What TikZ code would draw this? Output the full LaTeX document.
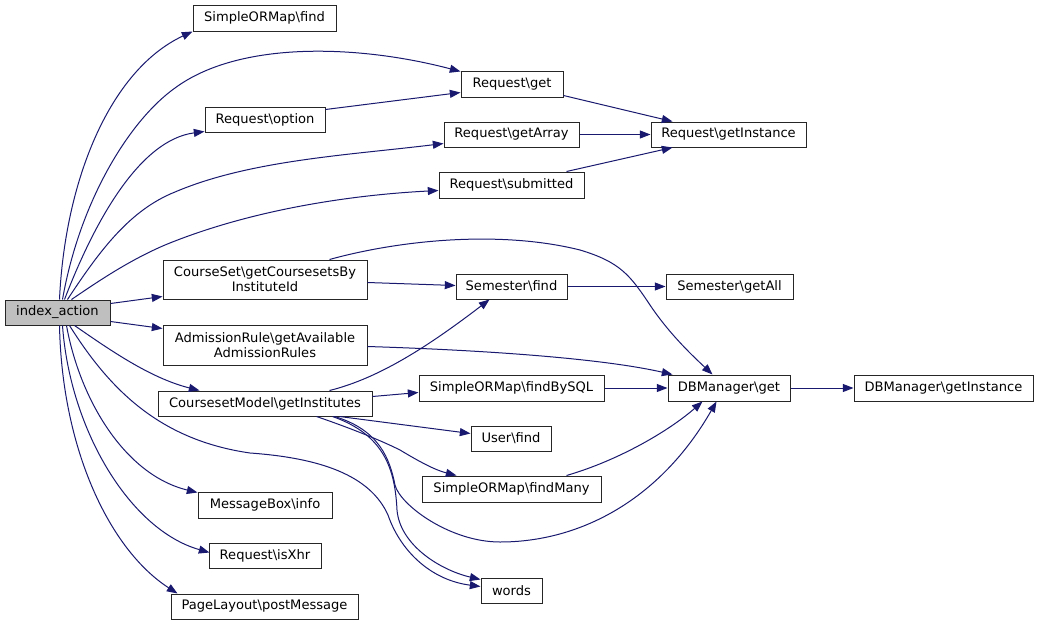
\documentclass[tikz,border=0pt]{standalone}
\usepackage{fontspec}
\setmainfont{DejaVu Sans}
\usetikzlibrary{arrows.meta,calc}
\definecolor{edgecol}{HTML}{191970}
\definecolor{rootfill}{HTML}{BFBFBF}
\tikzset{
  box/.style={draw=black!85,line width=0.75pt,fill=white,inner sep=0pt,align=center,
    font=\fontsize{9.8}{10.9}\selectfont},
  bw/.style={minimum width=#1*0.75pt},
  bh/.style={minimum height=#1*0.75pt},
  e/.style={draw=edgecol,line width=0.75pt,-{Triangle[length=8pt,width=6pt]}}
}
\begin{document}
\begin{tikzpicture}[x=0.75pt,y=-0.75pt]
\useasboundingbox[fill=white] (0,0) rectangle (1039,625);
% nodes
\node[box,bw=105,bh=25,fill=rootfill] (idx) at (57.5,312.5) {index\_action};
\node[box,bw=143,bh=26] (sof) at (264.5,18) {SimpleORMap\textbackslash find};
\node[box,bw=102,bh=26] (rget) at (512,84) {Request\textbackslash get};
\node[box,bw=120,bh=25] (ropt) at (265,119.5) {Request\textbackslash option};
\node[box,bw=135,bh=25] (rarr) at (511.5,134.5) {Request\textbackslash getArray};
\node[box,bw=155,bh=25] (rinst) at (728.5,134.5) {Request\textbackslash getInstance};
\node[box,bw=145,bh=26] (rsub) at (511.5,185) {Request\textbackslash submitted};
\node[box,bw=204,bh=39] (cs) at (265,279.5) {CourseSet\textbackslash getCoursesetsBy\\InstituteId};
\node[box,bw=111,bh=25] (semf) at (511.5,286.5) {Semester\textbackslash find};
\node[box,bw=127,bh=25] (sema) at (729.5,286.5) {Semester\textbackslash getAll};
\node[box,bw=204,bh=40] (adm) at (265,345) {AdmissionRule\textbackslash getAvailable\\AdmissionRules};
\node[box,bw=214,bh=25] (csm) at (265,403.5) {CoursesetModel\textbackslash getInstitutes};
\node[box,bw=185,bh=26] (fbs) at (511.5,388) {SimpleORMap\textbackslash findBySQL};
\node[box,bw=122,bh=26] (dbg) at (729,388) {DBManager\textbackslash get};
\node[box,bw=179,bh=26] (dbi) at (943.5,388) {DBManager\textbackslash getInstance};
\node[box,bw=80,bh=25] (uf) at (511,438.5) {User\textbackslash find};
\node[box,bw=179,bh=26] (fm) at (511.5,489) {SimpleORMap\textbackslash findMany};
\node[box,bw=134,bh=26] (mb) at (265,505) {MessageBox\textbackslash info};
\node[box,bw=112,bh=25] (isx) at (265,555.5) {Request\textbackslash isXhr};
\node[box,bw=61,bh=25] (words) at (511.5,590.5) {words};
\node[box,bw=187,bh=25] (pl) at (264.5,606.5) {PageLayout\textbackslash postMessage};
% edges from index_action
\draw[e] ($(idx.north west)+(55,0)$) .. controls (65,180) and (110,70) .. (sof.south west);
\draw[e] ($(idx.north west)+(58,0)$) .. controls (80,200) and (130,120) .. (175,88)
   .. controls (240,40) and (360,45) .. ($(rget.north west)+(0,1)$);
\draw[e] ($(idx.north west)+(60,0)$) .. controls (95,220) and (140,140) .. ($(ropt.south west)+(0,-1)$);
\draw[e] ($(idx.north west)+(63,0)$) .. controls (100,250) and (130,210) .. (175,192)
   .. controls (250,160) and (350,155) .. ($(rarr.south west)+(0,-4)$);
\draw[e] ($(idx.north west)+(67,0)$) .. controls (100,280) and (130,260) .. (165,245)
   .. controls (250,210) and (350,195) .. ($(rsub.south west)+(0,-8)$);
\draw[e] ($(idx.north east)+(0,4)$) -- ($(cs.south west)+(0,-3)$);
\draw[e] ($(idx.south east)+(0,-4)$) -- ($(adm.north west)+(0,4)$);
\draw[e] ($(idx.south west)+(70,0)$) .. controls (110,350) and (150,378) .. ($(csm.north west)+(42,0)$);
\draw[e] ($(idx.south west)+(62,0)$) .. controls (80,400) and (125,475) .. ($(mb.north west)+(0,1)$);
\draw[e] ($(idx.south west)+(58,0)$) .. controls (70,430) and (130,530) .. ($(isx.north west)+(1,10)$);
\draw[e] ($(idx.south west)+(55,0)$) .. controls (62,450) and (110,550) .. ($(pl.north west)+(7,0)$);
\draw[e] ($(idx.south west)+(65,0)$) .. controls (110,390) and (160,440) .. (250,453)
   .. controls (320,458) and (370,475) .. (388,515)
   .. controls (400,550) and (430,580) .. ($(words.north west)+(0,9)$);
% other edges
\draw[e] ($(ropt.north east)+(0,3)$) -- ($(rget.north west)+(0,22)$);
\draw[e] ($(rget.south east)+(0,-2)$) -- ($(rinst.north west)+(22,0)$);
\draw[e] (rarr.east) -- (rinst.west);
\draw[e] ($(rsub.north west)+(128,0)$) -- ($(rinst.south west)+(22,0)$);
\draw[e] ($(cs.north west)+(167,0)$) .. controls (400,240) and (500,230) .. (580,250)
   .. controls (620,262) and (630,275) .. (650,305)
   .. controls (670,335) and (695,358) .. ($(dbg.north west)+(45,0)$);
\draw[e] ($(cs.north east)+(0,23)$) -- ($(semf.north west)+(0,12)$);
\draw[e] (semf.east) -- (sema.west);
\draw[e] ($(adm.north east)+(0,22)$) .. controls (480,350) and (600,358) .. ($(dbg.north west)+(5,0)$);
\draw[e] ($(csm.north west)+(172,0)$) .. controls (380,378) and (430,345) .. ($(semf.south west)+(34,0)$);
\draw[e] ($(csm.north east)+(0,6)$) -- ($(fbs.north west)+(0,18)$);
\draw[e] ($(csm.south west)+(182,0)$) -- ($(uf.north west)+(0,8)$);
\draw[e] ($(csm.south west)+(159,0)$) .. controls (350,428) and (380,440) .. (400,450)
   .. controls (420,462) and (435,470) .. ($(fm.north west)+(35,0)$);
\draw[e] ($(csm.south west)+(177,0)$) .. controls (380,430) and (390,460) .. (395,485)
   .. controls (400,505) and (450,542) .. (500,542)
   .. controls (580,542) and (660,500) .. ($(dbg.south west)+(49,0)$);
\draw[e] ($(csm.south west)+(175,0)$) .. controls (385,435) and (395,470) .. (397,510)
   .. controls (400,545) and (440,570) .. ($(words.north west)+(0,2)$);
\draw[e] (fbs.east) -- (dbg.west);
\draw[e] ($(fm.north west)+(145,0)$) .. controls (620,460) and (670,430) .. ($(dbg.south west)+(35,0)$);
\draw[e] (dbg.east) -- (dbi.west);
\end{tikzpicture}
\end{document}
